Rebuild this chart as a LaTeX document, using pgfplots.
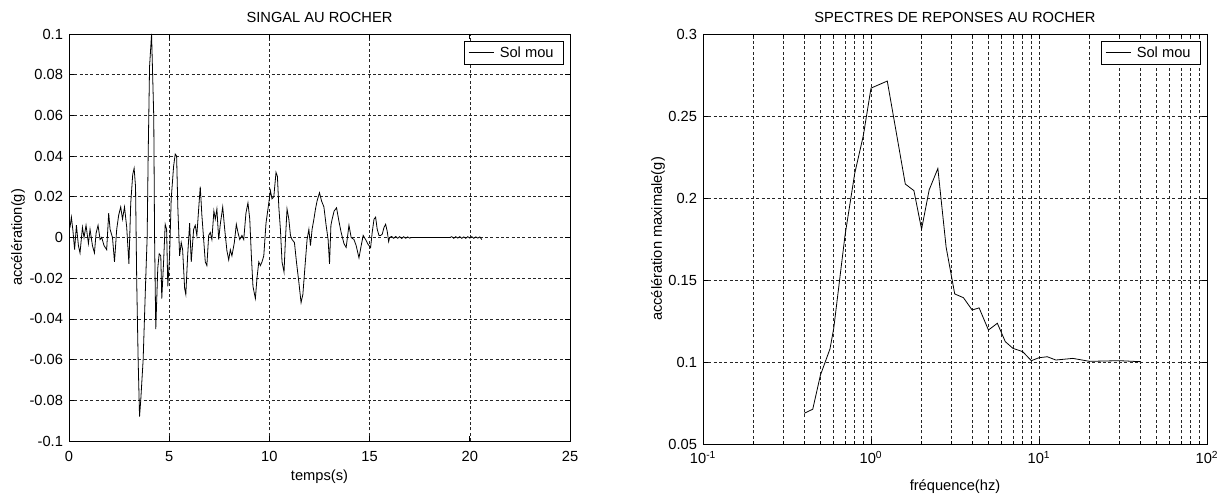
\documentclass[border=0pt]{standalone}
\usepackage{fontspec}
\setmainfont{Liberation Sans}
\usepackage{pgfplots}
\pgfplotsset{compat=1.18}

% MATLAB-like look shared by both panels
\pgfplotsset{
  matlab/.style={
    scale only axis,
    anchor=south west,
    font=\fontsize{11}{13}\selectfont,
    axis line style={line width=0.6pt},
    tick style={black, line width=0.5pt},
    major tick length=4pt,
    minor tick length=2.5pt,
    tick align=inside,
    major grid style={black!85, line width=0.45pt, dash pattern=on 2.25pt off 1.75pt},
    minor grid style={black!85, line width=0.45pt, dash pattern=on 2.25pt off 1.75pt},
    scaled ticks=false,
    title style={at={(axis description cs:0.5,1)}, anchor=base, yshift=2.5pt},
    xticklabel style={yshift=-4pt},
    yticklabel style={xshift=-1pt},
    legend style={at={(1,1)}, anchor=north east, xshift=-5pt, yshift=-5pt,
      draw=black, line width=0.6pt, inner xsep=3pt, inner ysep=1.5pt,
      nodes={inner xsep=4pt, inner ysep=2.5pt}},
    legend image code/.code={\draw[#1] (0pt,0pt) -- (19pt,0pt);},
  }
}

\begin{document}
\begin{tikzpicture}
\useasboundingbox (0,0) rectangle (917.25pt,373.5pt);

\begin{axis}[
    matlab,
    at={(51.75pt,42.75pt)}, width=375.75pt, height=305.25pt,
    xmin=0, xmax=25, ymin=-0.1, ymax=0.1,
    xtick={0,5,10,15,20,25}, xticklabels={0,5,10,15,20,25},
    ytick={-0.1,-0.08,-0.06,-0.04,-0.02,0,0.02,0.04,0.06,0.08,0.1},
    yticklabels={-0.1,-0.08,-0.06,-0.04,-0.02,0,0.02,0.04,0.06,0.08,0.1},
    grid=major,
    title={SINGAL AU ROCHER},
    xlabel={temps(s)},
    ylabel={accélération(g)},
    xlabel style={at={(axis description cs:0.5,0)}, anchor=base, yshift=-30pt},
    ylabel style={at={(axis description cs:-0.1018,0.5)}, anchor=center},
]
\addplot[black, line width=0.6pt] table {
t a
0.00 0.004
0.05 0.005
0.12 0.010
0.20 0.003
0.28 -0.006
0.37 0.006
0.47 -0.004
0.55 -0.0076
0.67 0.005
0.75 0.000
0.85 0.006
0.97 -0.003
1.05 0.004
1.17 -0.004
1.27 -0.0076
1.35 0.002
1.45 0.006
1.55 -0.001
1.63 0.000
1.75 -0.004
1.88 -0.006
1.98 0.012
2.05 0.004
2.17 0.000
2.27 -0.012
2.38 0.004
2.48 0.011
2.58 0.015
2.67 0.009
2.77 0.015
2.88 0.005
2.99 -0.013
3.08 0.0167
3.18 0.031
3.25 0.034
3.32 0.025
3.38 -0.022
3.45 -0.060
3.52 -0.088
3.58 -0.080
3.70 -0.060
3.83 -0.020
3.90 0.000
3.95 0.040
4.02 0.084
4.12 0.100
4.23 0.059
4.27 0.000
4.33 -0.045
4.43 -0.015
4.50 -0.008
4.58 -0.009
4.63 -0.030
4.72 -0.012
4.80 0.0065
4.87 0.004
4.93 -0.024
5.02 -0.009
5.10 0.019
5.22 0.035
5.30 0.041
5.37 0.040
5.43 0.015
5.52 -0.009
5.60 -0.0025
5.67 -0.006
5.77 -0.025
5.83 -0.028
5.92 -0.009
6.02 0.007
6.10 -0.012
6.22 0.004
6.30 0.006
6.38 0.001
6.47 0.014
6.55 0.025
6.63 0.011
6.72 -0.001
6.80 -0.012
6.88 -0.0138
6.97 0.001
7.05 0.0025
7.13 -0.001
7.23 0.013
7.30 0.009
7.38 0.014
7.47 -0.001
7.55 0.0065
7.67 0.015
7.77 0.004
7.88 -0.0065
7.97 -0.011
8.05 -0.006
8.13 -0.009
8.25 -0.0025
8.35 0.0065
8.43 0.0025
8.52 -0.001
8.63 0.001
8.72 -0.001
8.83 0.012
8.93 0.017
9.02 0.009
9.10 -0.009
9.18 -0.024
9.30 -0.030
9.38 -0.020
9.47 -0.012
9.55 -0.0138
9.63 -0.012
9.72 -0.009
9.83 0.007
9.97 0.017
10.05 0.023
10.13 0.019
10.22 0.020
10.33 0.032
10.40 0.030
10.47 0.015
10.55 0.004
10.63 -0.012
10.73 -0.017
10.80 -0.001
10.88 0.014
10.97 0.009
11.05 0.001
11.13 -0.001
11.25 -0.0025
11.35 -0.012
11.47 -0.022
11.58 -0.032
11.67 -0.028
11.77 -0.015
11.88 -0.001
11.97 0.004
12.05 -0.004
12.13 0.004
12.22 0.009
12.30 0.014
12.38 0.018
12.50 0.022
12.60 0.018
12.72 0.015
12.83 0.006
12.93 -0.001
13.00 -0.013
13.07 0.006
13.13 0.009
13.23 0.013
13.35 0.0146
13.47 0.008
13.58 0.0025
13.72 -0.003
13.83 -0.0049
13.97 0.006
14.08 0.000
14.22 -0.001
14.33 -0.004
14.47 -0.010
14.58 -0.004
14.68 0.001
14.80 -0.001
14.92 -0.0033
15.05 -0.005
15.13 0.0025
15.22 0.009
15.30 0.010
15.38 0.004
15.47 0.001
15.55 0.001
15.63 0.0016
15.72 0.005
15.80 0.0065
15.88 0.003
15.95 -0.002
16.00 0.000
16.10 0.0005
16.20 -0.0004
16.30 0.0005
16.40 -0.0004
16.50 0.0004
16.60 -0.0005
16.70 0.0004
16.80 -0.0004
16.90 0.0003
17.00 -0.0003
17.10 0.000
19.00 0.000
19.10 0.0004
19.20 -0.0004
19.30 0.0004
19.40 -0.0003
19.50 0.0004
19.60 -0.0004
19.70 0.0003
19.80 -0.0004
19.90 0.0004
20.00 -0.0003
20.10 0.0004
20.20 -0.0004
20.30 0.0003
20.40 -0.0003
20.50 0.0003
20.60 -0.001
};
\addlegendentry{Sol mou}
\end{axis}

\begin{axis}[
    matlab,
    xmode=log,
    at={(527.25pt,40.5pt)}, width=378pt, height=307.5pt,
    xmin=0.1, xmax=100, ymin=0.05, ymax=0.3,
    xtick={0.1,1,10,100},
    xticklabels={10\textsuperscript{-1},10\textsuperscript{0},10\textsuperscript{1},10\textsuperscript{2}},
    minor xtick={0.2,0.3,0.4,0.5,0.6,0.7,0.8,0.9,2,3,4,5,6,7,8,9,20,30,40,50,60,70,80,90},
    ytick={0.05,0.1,0.15,0.2,0.25,0.3},
    yticklabels={0.05,0.1,0.15,0.2,0.25,0.3},
    grid=both,
    title={SPECTRES DE REPONSES AU ROCHER},
    xlabel={fréquence(hz)},
    ylabel={accélération maximale(g)},
    xticklabel style={yshift=2pt},
    xlabel style={at={(axis description cs:0.5,0)}, anchor=base, yshift=-35pt},
    ylabel style={at={(axis description cs:-0.0893,0.5)}, anchor=center},
]
\addplot[black, line width=0.6pt] table {
f a
0.40 0.0687
0.45 0.0712
0.50 0.092
0.57 0.108
0.60 0.1205
0.70 0.177
0.80 0.215
0.90 0.238
1.00 0.267
1.25 0.2713
1.60 0.2085
1.80 0.2045
2.00 0.181
2.22 0.205
2.50 0.218
2.80 0.170
3.15 0.1415
3.55 0.1392
4.00 0.1317
4.40 0.133
5.00 0.1195
5.65 0.1236
6.30 0.1124
7.00 0.1083
8.00 0.1063
9.00 0.1008
10.0 0.1026
11.2 0.1032
12.6 0.1012
15.9 0.1022
20.0 0.1004
30.0 0.1008
40.0 0.1002
};
\addlegendentry{Sol mou}
\end{axis}
\end{tikzpicture}
\end{document}
